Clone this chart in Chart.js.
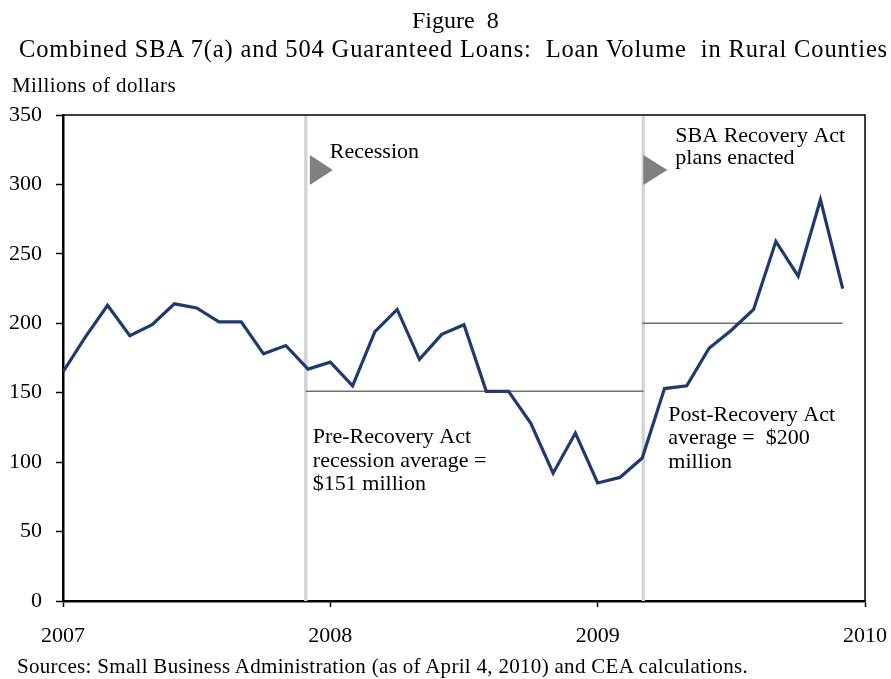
<!DOCTYPE html>
<html>
<head>
<meta charset="utf-8">
<title>Figure 8</title>
<script src="https://cdn.jsdelivr.net/npm/chart.js@4.4.0/dist/chart.umd.min.js"></script>
<style>
  body { margin: 0; background: #fff; }
  #wrap { position: relative; width: 891px; height: 679px; font-family: "Liberation Serif", "Times New Roman", serif; color: #000; }
  #chart { position: absolute; left: 0; top: 0; }
  .txt { position: absolute; white-space: pre; line-height: 1; }
</style>
</head>
<body>
<div id="wrap">
  <canvas id="chart" width="891" height="679"></canvas>
  <div class="txt" id="fig" style="left:412px; top:8px; font-size:24px;">Figure  8</div>
  <div class="txt" id="sub" style="left:19px; top:37px; font-size:24.5px;">Combined SBA 7(a) and 504 Guaranteed Loans:  Loan Volume  in Rural Counties</div>
  <div class="txt" id="ylab" style="left:12px; top:75px; font-size:21px;">Millions of dollars</div>
  <div class="txt" id="src" style="left:17px; top:656px; font-size:21px;">Sources: Small Business Administration (as of April 4, 2010) and CEA calculations.</div>
</div>
<script>
'use strict';

// monthly loan volume, millions of dollars
let loans2007 = [165, 190, 213, 191, 199, 214, 211, 201, 201, 178, 184, 167];
let loans2008 = [172, 155, 194, 210, 174, 192, 199, 151, 151, 128, 92, 121];
let loans2009 = [85, 89, 103, 153, 155, 182, 195, 210, 259, 234, 289, 225];
let yearTicks = ['2007', '2008', '2009', '2010'];

let preRecoveryAvg = 151;
let postRecoveryAvg = 200;
// in months after Jan 2007
let recessionStart = 10.9;
let recoveryActStart = 26.05;

let allLoans = loans2007.concat(loans2008, loans2009);
let loanPoints = [];
for (let i = 0; i < allLoans.length; i++) {
    loanPoints.push({ x: i, y: allLoans[i] });
}
let lastMonth = allLoans.length - 1;

// stretch a line of text to the width it has in the figure
function fitWidth(id, target) {
    let el = document.getElementById(id);
    let n = el.textContent.length;
    let w = el.getBoundingClientRect().width;
    el.style.letterSpacing = ((target - w) / n) + 'px';
}
fitWidth('sub', 869);
fitWidth('src', 731);
fitWidth('ylab', 164);

let serif = '"Liberation Serif", "Times New Roman", serif';

let annotations = {
    id: 'annotations',
    afterDraw(chart) {
        let ctx = chart.ctx;
        let area = chart.chartArea;
        let xs = chart.scales.x;
        let xR = xs.getPixelForValue(recessionStart);
        let xA = xs.getPixelForValue(recoveryActStart);

        ctx.save();
        // top and right frame
        ctx.strokeStyle = '#000';
        ctx.lineWidth = 1.5;
        ctx.beginPath();
        ctx.moveTo(area.left, area.top);
        ctx.lineTo(area.right, area.top);
        ctx.lineTo(area.right, area.bottom);
        ctx.stroke();

        // arrow heads
        ctx.fillStyle = '#808080';
        ctx.beginPath();
        ctx.moveTo(xR + 4, area.top + 40);
        ctx.lineTo(xR + 27, area.top + 55);
        ctx.lineTo(xR + 4, area.top + 70);
        ctx.closePath();
        ctx.fill();
        ctx.beginPath();
        ctx.moveTo(xA, area.top + 40);
        ctx.lineTo(xA + 24, area.top + 55);
        ctx.lineTo(xA, area.top + 70);
        ctx.closePath();
        ctx.fill();

        ctx.fillStyle = '#000';
        ctx.font = '22px ' + serif;
        ctx.textBaseline = 'alphabetic';
        ctx.fillText('Recession', xR + 24, 158);
        ctx.fillText('SBA Recovery Act', xA + 32, 142);
        ctx.fillText('plans enacted', xA + 32, 164);
        ctx.fillText('Pre-Recovery Act', xR + 7, 443);
        ctx.fillText('recession average =', xR + 7, 467);
        ctx.fillText('$151 million', xR + 7, 490);
        ctx.fillText('Post-Recovery Act', xA + 25, 421);
        ctx.fillText('average =  $200', xA + 25, 444);
        ctx.fillText('million', xA + 25, 468);
        ctx.restore();
    }
};

let ctx = document.getElementById('chart').getContext('2d');
let myChart = new Chart(ctx, {
    type: 'line',
    data: {
        datasets: [{
            label: 'Loan volume',
            data: loanPoints,
            borderColor: '#1f3a6f',
            borderWidth: 3.2,
            pointRadius: 0,
            order: 0
        }, {
            label: 'Pre-Recovery average',
            data: [{ x: recessionStart, y: preRecoveryAvg }, { x: recoveryActStart, y: preRecoveryAvg }],
            borderColor: '#707070',
            borderWidth: 1.5,
            pointRadius: 0,
            order: 1
        }, {
            label: 'Post-Recovery average',
            data: [{ x: recoveryActStart - 0.05, y: postRecoveryAvg }, { x: lastMonth, y: postRecoveryAvg }],
            borderColor: '#707070',
            borderWidth: 1.5,
            pointRadius: 0,
            order: 1
        }, {
            label: 'Recession',
            data: [{ x: recessionStart, y: 0 }, { x: recessionStart, y: 350 }],
            borderColor: '#d4d4d4',
            borderWidth: 3.5,
            pointRadius: 0,
            order: 2
        }, {
            label: 'Recovery Act',
            data: [{ x: recoveryActStart, y: 0 }, { x: recoveryActStart, y: 350 }],
            borderColor: '#d4d4d4',
            borderWidth: 3.5,
            pointRadius: 0,
            order: 2
        }]
    },
    options: {
        responsive: false,
        animation: false,
        layout: { padding: { top: 115, right: 26, left: 0, bottom: 0 } },
        plugins: {
            legend: { display: false },
            tooltip: { enabled: false }
        },
        scales: {
            x: {
                type: 'linear',
                min: 0,
                max: 36,
                afterFit(scale) {
                    scale.height = 78;
                    scale.paddingLeft = 0;
                    scale.paddingRight = 0;
                },
                ticks: {
                    stepSize: 12,
                    color: '#000',
                    padding: 16,
                    maxRotation: 0,
                    font: { family: serif, size: 22 },
                    callback: (v) => yearTicks[v / 12]
                },
                grid: { drawOnChartArea: false, tickLength: 6, tickColor: '#000', tickWidth: 1.5 },
                border: { color: '#000', width: 2.5 }
            },
            y: {
                min: 0,
                max: 350,
                afterFit(scale) {
                    scale.width = 63;
                    scale.paddingTop = 0;
                    scale.paddingBottom = 0;
                },
                ticks: {
                    stepSize: 50,
                    color: '#000',
                    padding: 14,
                    font: { family: serif, size: 22 }
                },
                grid: { drawOnChartArea: false, tickLength: 7, tickColor: '#000', tickWidth: 1.5 },
                border: { color: '#000', width: 2.5 }
            }
        }
    },
    plugins: [annotations]
});
</script>
</body>
</html>
